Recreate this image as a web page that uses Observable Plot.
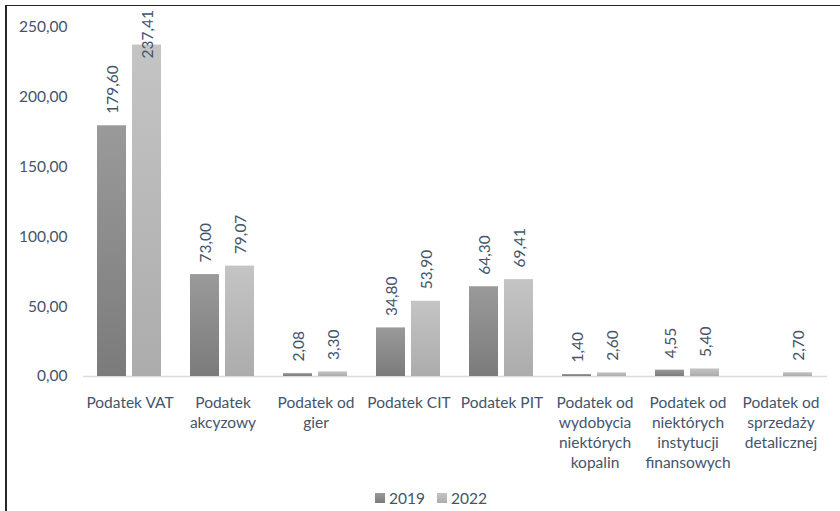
<!DOCTYPE html>
<html>
<head>
<meta charset="utf-8">
<script src="https://cdn.jsdelivr.net/npm/d3@7"></script>
<script src="https://cdn.jsdelivr.net/npm/@observablehq/plot@0.6"></script>
<style>
  html, body { margin: 0; padding: 0; background: #fff; }
  body { width: 840px; height: 511px; position: relative; overflow: hidden; font-family: Lato, "Open Sans", sans-serif; }
  #chart { position: absolute; left: 0; top: 0; }
  #frame { position: absolute; left: 5px; top: 5px; width: 840px; height: 520px; border-left: 2px solid #262626; border-top: 1.5px solid #262626; pointer-events: none; }
  #legend { position: absolute; left: 0; top: 488px; width: 840px; height: 20px; display: flex; justify-content: center; align-items: center; color: #44546a; font-size: 15.5px; padding-left: 22px; box-sizing: border-box; }
  .item { display: flex; align-items: center; margin: 0 6px; }
  .sw { width: 10px; height: 10px; margin-right: 4px; }
</style>
</head>
<body>
<div id="chart"></div>
<div id="legend"></div>
<div id="frame"></div>
<script>
const categories = ["Podatek VAT", "Podatek akcyzowy", "Podatek od gier", "Podatek CIT", "Podatek PIT", "Podatek od wydobycia niektórych kopalin", "Podatek od niektórych instytucji finansowych", "Podatek od sprzedaży detalicznej"];
const categoryLabels = ["Podatek VAT", "Podatek\nakcyzowy", "Podatek od\ngier", "Podatek CIT", "Podatek PIT", "Podatek od\nwydobycia\nniektórych\nkopalin", "Podatek od\nniektórych\ninstytucji\nfinansowych", "Podatek od\nsprzedaży\ndetalicznej"];
const years = ["2019", "2022"];
const values2019 = [179.60, 73.00, 2.08, 34.80, 64.30, 1.40, 4.55, null];
const values2022 = [237.41, 79.07, 3.30, 53.90, 69.41, 2.60, 5.40, 2.70];
const yTicks = [0, 50, 100, 150, 200, 250];

const textColor = "#44546a";
const fmt = v => v.toFixed(2).replace(".", ",");
const yMax = yTicks[yTicks.length - 1];

const rows = [];
categories.forEach((c, i) => {
  if (values2019[i] != null) rows.push({category: c, year: "2019", value: values2019[i]});
  if (values2022[i] != null) rows.push({category: c, year: "2022", value: values2022[i]});
});
const labelRows = categories.map((c, i) => ({category: c, label: categoryLabels[i]}));
const normalLabels = rows.filter(d => d.value < 220);
const topLabels = rows.filter(d => d.value >= 220);

const chart = Plot.plot({
  width: 840,
  height: 484,
  marginLeft: 82,
  marginRight: 13,
  marginTop: 27,
  marginBottom: 108,
  style: {fontFamily: "Lato, 'Open Sans', sans-serif", fontSize: "15px", color: textColor, background: "transparent"},
  fx: {domain: categories, padding: 0, axis: null},
  x: {domain: years, paddingInner: 0.167, paddingOuter: 0.376, axis: null},
  y: {domain: [0, yMax], axis: null},
  color: {domain: years, range: ["url(#g2019)", "url(#g2022)"]},
  marks: [
    Plot.axisY({ticks: yTicks, tickSize: 0, tickPadding: 16, tickFormat: fmt, fontSize: 15.5, fill: textColor, label: null}),
    Plot.ruleY([0], {stroke: "#d6dce5", strokeWidth: 1.5}),
    Plot.barY(rows, {fx: "category", x: "year", y: "value", fill: "year"}),
    Plot.text(normalLabels, {fx: "category", x: "year", y: "value", text: d => fmt(d.value), rotate: -90, textAnchor: "start", dy: -12, dx: 1, fill: textColor, fontSize: 15.5}),
    Plot.text(topLabels, {fx: "category", x: "year", y: () => yMax, text: d => fmt(d.value), rotate: -90, textAnchor: "start", dy: 31, dx: 1, fill: textColor, fontSize: 15.5}),
    Plot.text(labelRows, {fx: "category", text: "label", frameAnchor: "bottom", lineAnchor: "top", dy: 17, lineHeight: 1.3, fill: textColor, fontSize: 15.5})
  ]
});

d3.select(chart).insert("defs", ":first-child").html(`
  <linearGradient id="g2019" x1="0" y1="0" x2="0" y2="1">
    <stop offset="0" stop-color="#9a9a9a"/><stop offset="1" stop-color="#7b7b7b"/>
  </linearGradient>
  <linearGradient id="g2022" x1="0" y1="0" x2="0" y2="1">
    <stop offset="0" stop-color="#c4c4c4"/><stop offset="1" stop-color="#acacac"/>
  </linearGradient>`);
document.getElementById("chart").appendChild(chart);

const legend = d3.select("#legend");
const grads = {"2019": "linear-gradient(#9a9a9a, #7b7b7b)", "2022": "linear-gradient(#c4c4c4, #acacac)"};
years.forEach(y => {
  const it = legend.append("div").attr("class", "item");
  it.append("div").attr("class", "sw").style("background", grads[y]);
  it.append("span").text(y);
});
</script>
</body>
</html>
